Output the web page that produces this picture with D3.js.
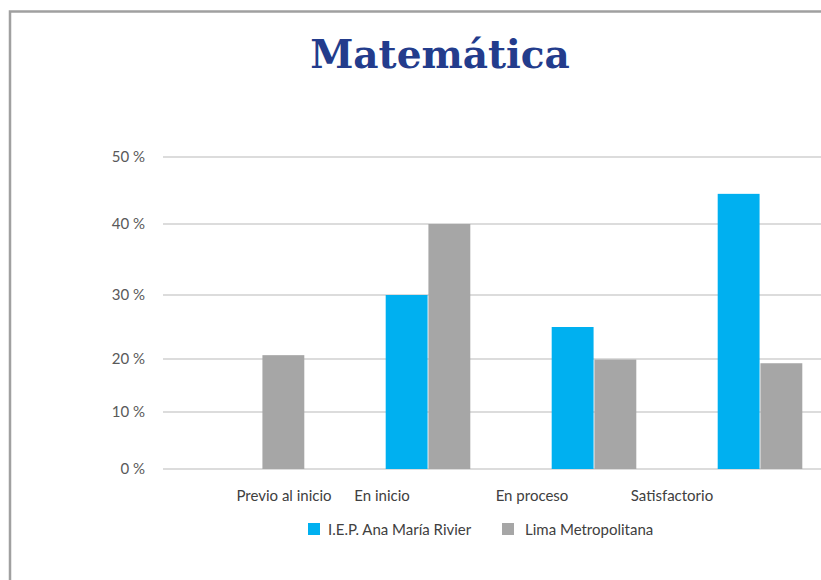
<!DOCTYPE html>
<html>
<head>
<meta charset="utf-8">
<script src="https://cdn.jsdelivr.net/npm/d3@7"></script>
<style>
body{margin:0;background:#fff;overflow:hidden;}
svg{display:block;}
</style>
</head>
<body>
<div id="chart"></div>
<script>
var categories=["Previo al inicio","En inicio","En proceso","Satisfactorio"];
var seriesNames=["I.E.P. Ana María Rivier","Lima Metropolitana"];
var iepValues=[0,30,25,44.5];
var limaValues=[20.6,40,19.9,19.2];
var yTicks=[0,10,20,30,40,50];
var colors=["#00b0f0","#a6a6a6"];

var width=821,height=580;
var svg=d3.select("#chart").append("svg").attr("width",width).attr("height",height)
    .style("overflow","hidden");

// outer frame, runs off the right and bottom like the picture
svg.append("rect").attr("x",10).attr("y",11.5).attr("width",950).attr("height",700)
    .attr("fill","#fff").attr("stroke","#a0a0a0").attr("stroke-width",2.5);

svg.append("text").attr("x",440).attr("y",68).attr("text-anchor","middle")
    .attr("font-family","DejaVu Serif").attr("font-weight","bold").attr("font-size",39)
    .attr("fill","#233c8c").text("Matemática");

// the picture's axis is unevenly spaced, so piecewise scale
var y=d3.scaleLinear().domain(yTicks).range([469,412,359,295,224,157]);
var x=d3.scaleBand().domain(categories).range([179,843]).paddingInner(0.48).paddingOuter(0.24);
var x1=d3.scaleBand().domain(seriesNames).range([0,x.bandwidth()]).padding(0.02);
var labelX=d3.scaleOrdinal().domain(categories).range([284,382,532,672]);

var grid=svg.append("g");
grid.selectAll("line").data(yTicks).enter().append("line")
    .attr("x1",163).attr("x2",width)
    .attr("y1",function(d){return y(d)}).attr("y2",function(d){return y(d)})
    .attr("stroke","#d0d0d0").attr("stroke-width",1.5);

svg.append("g").selectAll("text").data(yTicks).enter().append("text")
    .attr("x",145).attr("y",function(d){return y(d)+5})
    .attr("text-anchor","end").attr("font-family","Lato").attr("font-size",15)
    .attr("fill","#595959").text(function(d){return d+" %"});

var rows=categories.map(function(c,i){return {cat:c,vals:[iepValues[i],limaValues[i]]}});
var groups=svg.append("g").selectAll("g").data(rows).enter().append("g")
    .attr("transform",function(d){return "translate("+x(d.cat)+",0)"});
groups.selectAll("rect").data(function(d){return d.vals.map(function(v,j){return {name:seriesNames[j],v:v,j:j}})})
    .enter().append("rect")
    .attr("x",function(d){return x1(d.name)})
    .attr("width",x1.bandwidth())
    .attr("y",function(d){return y(d.v)})
    .attr("height",function(d){return y(0)-y(d.v)})
    .attr("fill",function(d){return colors[d.j]});

svg.append("g").selectAll("text").data(categories).enter().append("text")
    .attr("x",function(d){return labelX(d)}).attr("y",501)
    .attr("text-anchor","middle").attr("font-family","Lato").attr("font-size",15)
    .attr("fill","#404040").text(function(d){return d});

var legendX=[308,502];
var leg=svg.append("g").selectAll("g").data(seriesNames).enter().append("g")
    .attr("transform",function(d,i){return "translate("+legendX[i]+",523)"});
leg.append("rect").attr("width",12).attr("height",12).attr("fill",function(d,i){return colors[i]});
leg.append("text").attr("x",function(d,i){return i==0?20:23}).attr("y",12)
    .attr("font-family","Lato").attr("font-size",15).attr("fill","#404040")
    .text(function(d){return d});
</script>
</body>
</html>
